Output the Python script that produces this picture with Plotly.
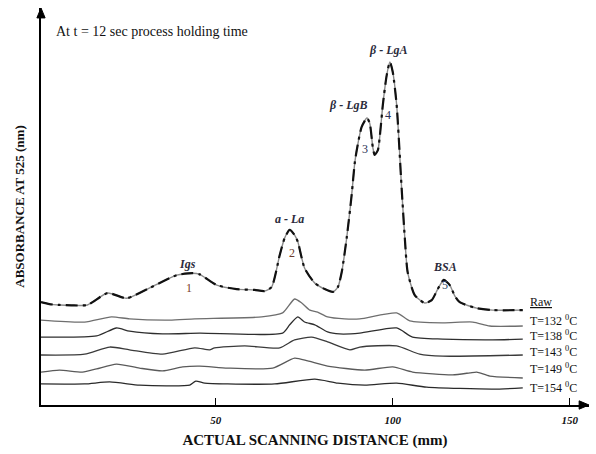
import plotly.graph_objects as go

# Scanning distance (mm) and absorbance (arbitrary units) for each densitogram
raw_x = [0.7, 3.1, 5.9, 9.3, 13.8, 19.5, 24.9, 31.4, 39.0, 43.5, 45.5, 50.3, 55.9, 61.0,
         63.8, 65.8, 68.1, 69.5, 70.9, 72.3, 73.2, 75.1, 78.0, 80.8, 83.1, 84.5, 85.6,
         87.0, 88.4, 89.3, 90.1, 91.2, 92.7, 93.5, 94.4, 94.9, 95.8, 96.3, 97.2, 98.3,
         99.2, 100.0, 101.1, 102.5, 103.4, 104.2, 106.2, 109.0, 111.0, 112.7, 114.4,
         116.1, 117.5, 118.9, 123.7, 128.2, 136.7]
raw_y = [25.9, 25.4, 25.2, 25.1, 25.2, 28.2, 26.9, 29.5, 32.7, 33.2, 32.9, 30.2, 29.2, 29.0,
         28.7, 29.7, 37.8, 42.1, 44.1, 42.8, 41.1, 34.5, 30.7, 29.2, 28.5, 29.7, 33.5,
         42.1, 52.9, 61.2, 65.5, 70.0, 72.3, 71.0, 64.7, 63.0, 64.2, 67.3, 75.6, 83.1,
         86.4, 83.9, 75.6, 54.7, 42.1, 33.5, 27.7, 25.7, 26.4, 29.2, 31.5,
         30.2, 27.5, 25.9, 24.4, 23.9, 23.9]

t132_x = [0.7, 13.0, 20.6, 25.7, 37.0, 44.1, 63.0, 68.9, 72.3, 74.3, 76.6, 78.8, 81.6,
          86.4, 90.7, 101.1, 104.8, 114.1, 122.6, 127.4, 136.7]
t132_y = [21.4, 20.9, 22.2, 21.7, 21.4, 21.7, 22.2, 23.2, 26.7, 25.7, 23.9, 23.4, 22.2,
          21.7, 21.7, 23.2, 21.2, 20.7, 20.9, 19.9, 19.9]

t138_x = [0.7, 16.4, 22.0, 25.7, 35.0, 45.5, 68.9, 70.9, 73.2, 75.1, 78.0, 81.6, 85.0,
          90.7, 101.1, 105.6, 114.1, 128.2, 136.7]
t138_y = [17.1, 17.4, 19.4, 18.6, 17.9, 18.1, 18.1, 20.2, 22.2, 20.9, 20.2, 18.4, 17.9,
          18.1, 19.4, 17.1, 16.6, 16.4, 16.6]

t143_x = [0.7, 13.0, 20.1, 25.7, 35.0, 44.1, 48.3, 49.7, 58.2, 68.1, 72.3, 77.1, 81.6,
          87.9, 90.7, 101.1, 107.6, 114.1, 136.7]
t143_y = [12.6, 12.8, 14.6, 13.9, 12.8, 14.4, 13.9, 14.4, 14.9, 14.4, 16.4, 17.1, 15.9,
          13.9, 14.6, 14.9, 12.8, 12.3, 12.6]

t149_x = [0.7, 5.9, 12.4, 16.4, 22.0, 28.5, 35.0, 40.7, 45.5, 53.4, 66.1, 72.3, 76.0,
          81.6, 92.1, 100.0, 105.6, 116.9, 121.8, 123.7, 127.4, 136.7]
t149_y = [8.3, 8.8, 8.3, 9.1, 10.3, 9.3, 8.6, 9.6, 9.8, 9.3, 9.3, 11.8, 11.1,
          9.8, 8.8, 9.6, 8.3, 7.6, 8.1, 8.3, 7.3, 6.8]

t154_x = [0.7, 13.0, 20.1, 28.5, 37.0, 42.7, 44.4, 46.9, 53.4, 66.7, 78.0, 84.5, 92.1,
          101.1, 109.6, 128.2, 136.7]
t154_y = [5.3, 5.3, 5.8, 5.0, 4.8, 5.0, 6.0, 5.5, 5.3, 5.3, 6.5, 5.5, 5.0,
          5.5, 4.5, 4.0, 4.3]

series_labels = ["Raw", "T=132 <sup>0</sup>C", "T=138 <sup>0</sup>C", "T=143 <sup>0</sup>C",
                 "T=149 <sup>0</sup>C", "T=154 <sup>0</sup>C"]
label_y = [25.9, 21.4, 17.6, 13.6, 9.1, 4.3]

peak_names = ["Igs", "a - La", "β - LgB", "β - LgA", "BSA"]
peak_name_pos = [(42.1, 35.5), (70.9, 46.9), (87.3, 75.6), (98.6, 89.4), (114.7, 34.8)]
peak_numbers = ["1", "2", "3", "4", "5"]
peak_number_pos = [(42.4, 29.5), (71.5, 38.3), (92.1, 64.5), (98.6, 73.0), (114.7, 30.2)]
number_colors = ["#7a3e2a", "#6b3a2a", "#2a2f55", "#2a2f55", "#2a3f66"]

x_ticks = [50, 100, 150]
X_MAX = 155.4
Y_MAX = 100
SERIF = "Liberation Serif, Times New Roman, serif"

fig = go.Figure()

# Heated samples: thin grey traces
heated = [(t132_x, t132_y, "#6e6e6e"), (t138_x, t138_y, "#2e2e2e"),
          (t143_x, t143_y, "#3a3a3a"), (t149_x, t149_y, "#5a5a5a"),
          (t154_x, t154_y, "#2a2a2a")]
for xs, ys, col in heated:
    fig.add_trace(go.Scatter(x=xs, y=ys, mode="lines",
                             line=dict(color=col, width=1.3, shape="spline", smoothing=0.6),
                             hoverinfo="skip", showlegend=False))

# Raw milk trace: grey line overlaid with heavy black dashes
fig.add_trace(go.Scatter(x=raw_x, y=raw_y, mode="lines",
                         line=dict(color="#8a8a8a", width=1.4, shape="spline", smoothing=0.6),
                         hoverinfo="skip", showlegend=False))
fig.add_trace(go.Scatter(x=raw_x, y=raw_y, mode="lines",
                         line=dict(color="#111111", width=2.2, shape="spline", smoothing=0.6,
                                   dash="12px,5px,3px,5px"),
                         hoverinfo="skip", showlegend=False))

annotations = []

annotations.append(dict(x=4.5, y=94.0, text="At t = 12 sec process holding time",
                        showarrow=False, xanchor="left", yanchor="middle",
                        font=dict(family=SERIF, size=14, color="#111")))

for name, (px, py) in zip(peak_names, peak_name_pos):
    annotations.append(dict(x=px, y=py, text="<b><i>" + name + "</i></b>", showarrow=False,
                            xanchor="center", yanchor="middle",
                            font=dict(family=SERIF, size=12, color="#2b2b3b")))

for num, (px, py), col in zip(peak_numbers, peak_number_pos, number_colors):
    annotations.append(dict(x=px, y=py, text=num, showarrow=False,
                            xanchor="center", yanchor="middle",
                            font=dict(family=SERIF, size=12, color=col)))

for i, (lab, ly) in enumerate(zip(series_labels, label_y)):
    txt = "<u>" + lab + "</u>" if i == 0 else lab
    annotations.append(dict(x=138.1, y=ly, text=txt, showarrow=False,
                            xanchor="left", yanchor="middle",
                            font=dict(family=SERIF, size=12, color="#111")))

# Arrowheads at the ends of both axes (paper coordinates)
shapes = [
    dict(type="path", xref="paper", yref="paper",
         path="M 1,0 L 0.982,0.0105 L 0.982,-0.0105 Z",
         fillcolor="#000", line=dict(color="#000", width=1)),
    dict(type="path", xref="paper", yref="paper",
         path="M 0,1 L 0.0075,0.975 L -0.0075,0.975 Z",
         fillcolor="#000", line=dict(color="#000", width=1)),
]

fig.update_layout(
    width=596, height=454,
    margin=dict(l=41, r=7, t=8, b=49),
    paper_bgcolor="white", plot_bgcolor="white",
    showlegend=False,
    annotations=annotations,
    shapes=shapes,
    xaxis=dict(range=[0.7, X_MAX], showgrid=False, zeroline=False,
               showline=True, linecolor="#000", linewidth=1.5,
               tickvals=x_ticks, ticktext=["<b><i>%d</i></b>" % v for v in x_ticks],
               ticks="inside", ticklen=7, tickcolor="#000", tickwidth=1,
               ticklabelstandoff=4,
               tickfont=dict(family=SERIF, size=11, color="#111"),
               title=dict(text="<b>ACTUAL SCANNING DISTANCE (mm)</b>", standoff=10,
                          font=dict(family=SERIF, size=15, color="#111"))),
    yaxis=dict(range=[0, Y_MAX], showgrid=False, zeroline=False,
               showline=True, linecolor="#000", linewidth=1.5,
               showticklabels=False, ticks="",
               title=dict(text="<b>ABSORBANCE AT 525 (nm)</b>", standoff=12,
                          font=dict(family=SERIF, size=13, color="#111"))),
)

fig.write_html("out.html")
